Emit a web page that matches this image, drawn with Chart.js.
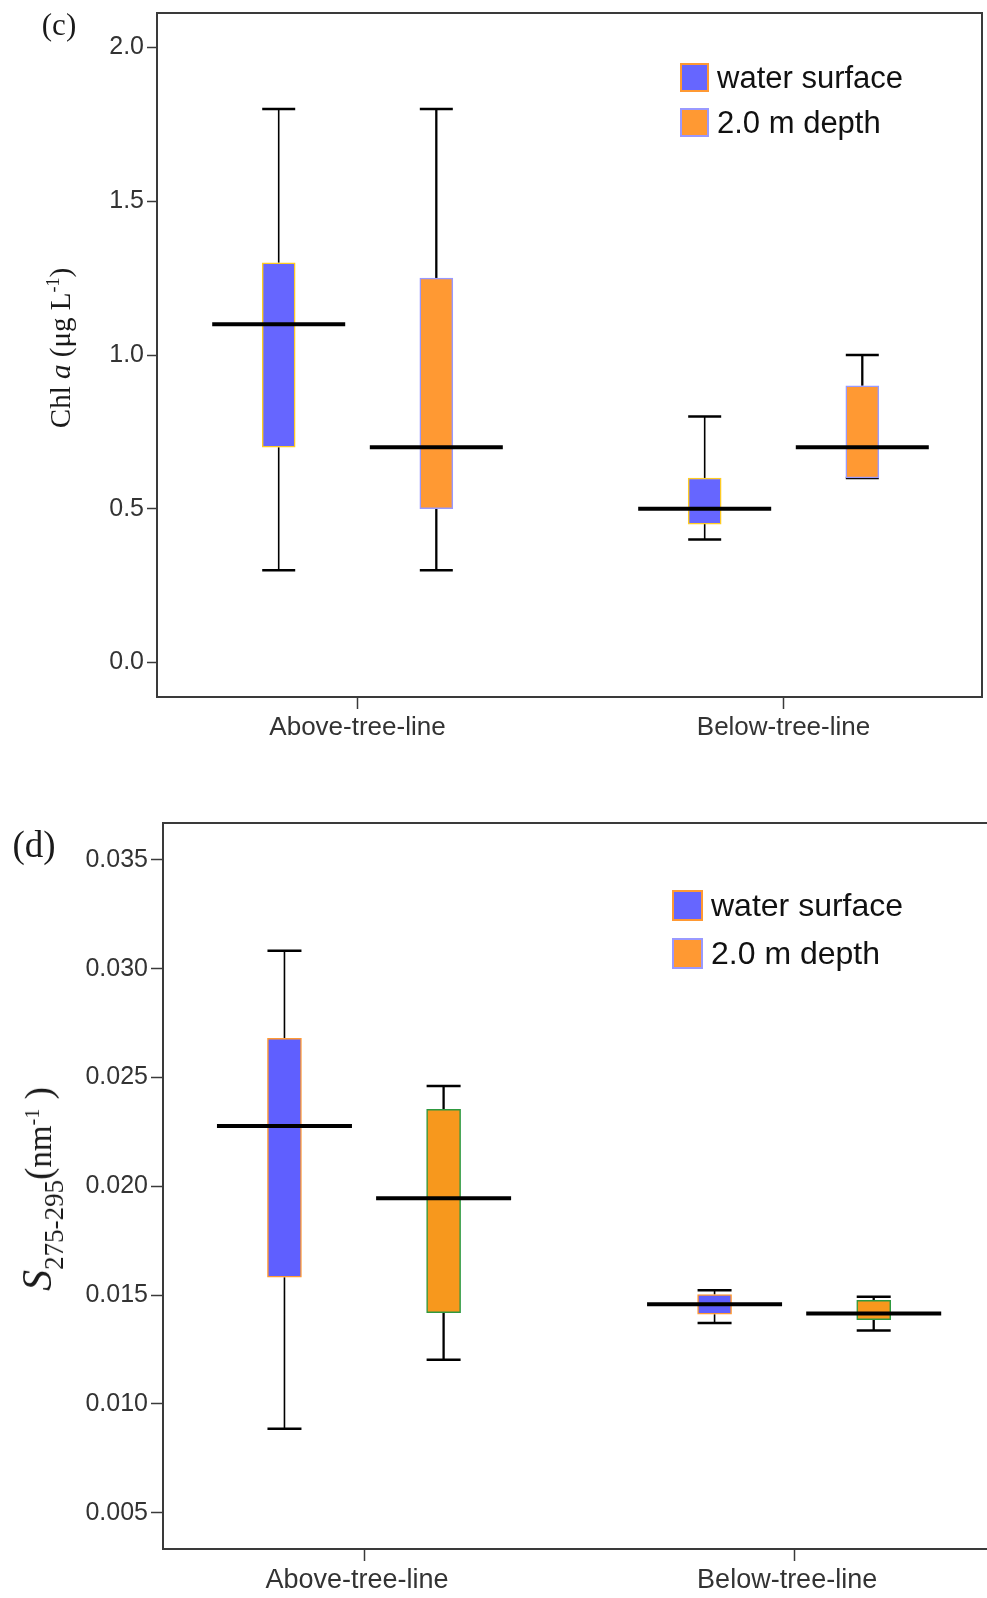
<!DOCTYPE html>
<html>
<head>
<meta charset="utf-8">
<script src="https://cdn.jsdelivr.net/npm/chart.js@4.4.1/dist/chart.umd.min.js"></script>
<style>
  html, body { margin: 0; padding: 0; background: #fff; width: 987px; height: 1598px; overflow: hidden; }
  .panel { position: absolute; left: 0; }
  .tag, .ytitle { position: absolute; font-family: "Liberation Serif", "Times New Roman", serif; color: #1a1a1a; white-space: nowrap; }
  .tag { transform: translate(-50%, -50%); }
  .ytitle { transform: translate(-50%, -50%) rotate(-90deg); }
  .ytitle sup, .ytitle sub { line-height: 0; }
  .legend-row { position: absolute; display: flex; align-items: center; font-family: "Liberation Sans", Arial, sans-serif; color: #111; white-space: nowrap; }
  .legend-row span.sw { box-sizing: border-box; border: 2px solid; display: inline-block; }
</style>
</head>
<body>

<div class="panel" style="top:0;width:987px;height:760px">
  <canvas id="chlChart" width="987" height="760"></canvas>
</div>
<div class="panel" style="top:780px;width:1000px;height:818px">
  <canvas id="slopeChart" width="1000" height="818"></canvas>
</div>

<div class="tag" style="left:59px;top:25px;font-size:31px">(c)</div>
<div class="tag" style="left:34px;top:844px;font-size:37px">(d)</div>

<div class="ytitle" style="left:60px;top:348px;font-size:29px">Chl <i>a</i> (μg L<sup style="font-size:18px">-1</sup>)</div>
<div class="ytitle" style="left:37px;top:1189px;font-size:33px"><i style="font-size:42px">S</i><sub style="font-size:27px;position:relative;top:4px">275-295</sub><span style="font-size:37px">(</span>nm<sup style="font-size:20px">-1</sup><span style="font-size:37px">&nbsp;)</span></div>

<div id="legendC"></div>
<div id="legendD"></div>

<script>
const categories = ['Above-tree-line', 'Below-tree-line'];
const seriesNames = ['water surface', '2.0 m depth'];

// Chl a (µg L-1): lower whisker, Q1, median, Q3, upper whisker
const chlSurfaceLow = [0.30, 0.40];
const chlSurfaceQ1 = [0.70, 0.45];
const chlSurfaceMedian = [1.10, 0.50];
const chlSurfaceQ3 = [1.30, 0.60];
const chlSurfaceHigh = [1.80, 0.80];

const chlDepthLow = [0.30, 0.60];
const chlDepthQ1 = [0.50, 0.60];
const chlDepthMedian = [0.70, 0.70];
const chlDepthQ3 = [1.25, 0.90];
const chlDepthHigh = [1.80, 1.00];

const chlTicks = [0.0, 0.5, 1.0, 1.5, 2.0];

// S275-295 (nm-1)
const slopeSurfaceLow = [0.00886, 0.01372];
const slopeSurfaceQ1 = [0.01582, 0.01412];
const slopeSurfaceMedian = [0.02277, 0.01458];
const slopeSurfaceQ3 = [0.02680, 0.01503];
const slopeSurfaceHigh = [0.03083, 0.01523];

const slopeDepthLow = [0.01203, 0.01337];
const slopeDepthQ1 = [0.01419, 0.01387];
const slopeDepthMedian = [0.01945, 0.01416];
const slopeDepthQ3 = [0.02354, 0.01476];
const slopeDepthHigh = [0.02461, 0.01493];

const slopeTicks = [0.005, 0.010, 0.015, 0.020, 0.025, 0.030, 0.035];

const SHIFT = 0.185;           // offset of each box from its category centre
const FRAME = '#3a3a3a';
const SANS = "'Liberation Sans', Arial, sans-serif";

function pairedBoxChart(canvasId, spec) {
  const datasets = [];
  spec.series.forEach((s, si) => {
    const xs = categories.map((_, i) => i + 1 + (si === 0 ? -SHIFT : SHIFT));

    // whisker stems, broken between the upper and lower part
    const stems = [];
    xs.forEach((x, i) => {
      stems.push({x, y: s.high[i]}, {x, y: s.q3[i]}, {x, y: null},
                 {x, y: s.q1[i]}, {x, y: s.low[i]}, {x, y: null});
    });

    datasets.push({
      type: 'bar', label: s.label, order: 1, grouped: false,
      data: xs.map((x, i) => ({x, y: [s.q1[i], s.q3[i]]})),
      backgroundColor: s.fill, borderColor: s.border, borderWidth: 1.5,
      borderSkipped: false, barThickness: spec.boxWidth
    });
    datasets.push({
      label: s.label + ' whiskers', order: 3, showLine: true, spanGaps: false,
      data: stems, borderColor: '#000', borderWidth: si === 0 ? 1.6 : 2.3, pointRadius: 0
    });
    datasets.push({
      label: s.label + ' caps', order: 2,
      data: xs.flatMap((x, i) => [{x, y: s.high[i]}, {x, y: s.low[i]}]),
      pointStyle: 'line', pointRadius: spec.boxWidth / 2, pointHoverRadius: spec.boxWidth / 2,
      pointBorderColor: '#000', pointBorderWidth: 2.5
    });
    datasets.push({
      label: s.label + ' median', order: 0,
      data: xs.map((x, i) => ({x, y: s.median[i]})),
      pointStyle: 'line', pointRadius: spec.medianWidth / 2, pointHoverRadius: spec.medianWidth / 2,
      pointBorderColor: '#000', pointBorderWidth: 4
    });
  });

  const frameAxis = (position) => ({
    type: 'linear', position, display: true,
    ticks: { display: false }, grid: { display: false, drawTicks: false },
    border: { display: true, color: FRAME, width: 2 },
    afterFit: (a) => {
      if (a.isHorizontal()) a.height = 0; else a.width = 0;
      a.paddingTop = a.paddingBottom = a.paddingLeft = a.paddingRight = 0;
    }
  });

  return new Chart(document.getElementById(canvasId), {
    type: 'scatter',
    data: { datasets },
    options: {
      responsive: false,
      animation: false,
      events: [],
      layout: { padding: spec.padding, autoPadding: false },
      plugins: { legend: { display: false }, tooltip: { enabled: false } },
      scales: {
        x: {
          type: 'linear', position: 'bottom', min: spec.xMin, max: spec.xMax, offset: false,
          afterBuildTicks: (a) => { a.ticks = categories.map((_, i) => ({value: i + 1})); },
          afterFit: (a) => { a.height = spec.xAxisHeight; a.paddingLeft = a.paddingRight = 0; },
          ticks: {
            autoSkip: false, maxRotation: 0, padding: 3, color: '#333',
            labelOffset: spec.xLabelOffset,
            font: { family: SANS, size: spec.xFont },
            callback: (v, i) => categories[i]
          },
          grid: { offset: false, drawOnChartArea: false, tickLength: 12, tickWidth: 1.5, tickColor: FRAME },
          border: { display: true, color: FRAME, width: 2 }
        },
        y: {
          type: 'linear', position: 'left', min: spec.yMin, max: spec.yMax,
          afterBuildTicks: (a) => { a.ticks = spec.yTicks.map(v => ({value: v})); },
          afterFit: (a) => { a.width = spec.yAxisWidth; a.paddingTop = a.paddingBottom = 0; },
          ticks: {
            padding: 3, color: '#333',
            font: { family: SANS, size: 25 },
            callback: (v) => Number(v).toFixed(spec.decimals)
          },
          grid: { drawOnChartArea: false, tickLength: spec.yTickLength, tickWidth: 1.5, tickColor: FRAME },
          border: { display: true, color: FRAME, width: 2 }
        },
        xTop: frameAxis('top'),
        yRight: frameAxis('right')
      }
    }
  });
}

function drawLegend(el, left, top, size, step, fontSize, fills, borders) {
  seriesNames.forEach((name, i) => {
    const row = document.createElement('div');
    row.className = 'legend-row';
    row.style.left = left + 'px';
    row.style.top = (top + i * step) + 'px';
    row.style.height = size + 'px';
    row.style.fontSize = fontSize + 'px';
    const sw = document.createElement('span');
    sw.className = 'sw';
    sw.style.width = size + 'px';
    sw.style.height = size + 'px';
    sw.style.background = fills[i];
    sw.style.borderColor = borders[i];
    sw.style.marginRight = '8px';
    const label = document.createElement('span');
    label.textContent = name;
    row.appendChild(sw);
    row.appendChild(label);
    el.appendChild(row);
  });
}

pairedBoxChart('chlChart', {
  series: [
    { label: seriesNames[0], low: chlSurfaceLow, q1: chlSurfaceQ1, median: chlSurfaceMedian, q3: chlSurfaceQ3, high: chlSurfaceHigh, fill: '#6666ff', border: '#ffcc22' },
    { label: seriesNames[1], low: chlDepthLow, q1: chlDepthQ1, median: chlDepthMedian, q3: chlDepthQ3, high: chlDepthHigh, fill: '#ff9933', border: '#9999ff' }
  ],
  xMin: 0.5293, xMax: 2.466,
  yMin: -0.1122, yMax: 2.1122, yTicks: chlTicks, decimals: 1,
  padding: { left: 0, top: 13, right: 5, bottom: 0 },
  yAxisWidth: 157, xAxisHeight: 63, yTickLength: 10, xFont: 26, xLabelOffset: 0,
  boxWidth: 33, medianWidth: 133
});

pairedBoxChart('slopeChart', {
  series: [
    { label: seriesNames[0], low: slopeSurfaceLow, q1: slopeSurfaceQ1, median: slopeSurfaceMedian, q3: slopeSurfaceQ3, high: slopeSurfaceHigh, fill: '#5f5fff', border: '#ff9933' },
    { label: seriesNames[1], low: slopeDepthLow, q1: slopeDepthQ1, median: slopeDepthMedian, q3: slopeDepthQ3, high: slopeDepthHigh, fill: '#f7981d', border: '#2e9940' }
  ],
  xMin: 0.5326, xMax: 2.467,
  yMin: 0.003332, yMax: 0.0367, yTicks: slopeTicks, decimals: 3,
  padding: { left: 0, top: 43, right: 5, bottom: 0 },
  yAxisWidth: 163, xAxisHeight: 49, yTickLength: 12, xFont: 27, xLabelOffset: -7,
  boxWidth: 34, medianWidth: 135
});

drawLegend(document.getElementById('legendC'), 680, 63, 29, 45, 31, ['#6666ff', '#ff9933'], ['#ff9933', '#9999ff']);
drawLegend(document.getElementById('legendD'), 672, 890, 31, 48, 32, ['#6666ff', '#ff9933'], ['#ff9933', '#9999ff']);
</script>
</body>
</html>
